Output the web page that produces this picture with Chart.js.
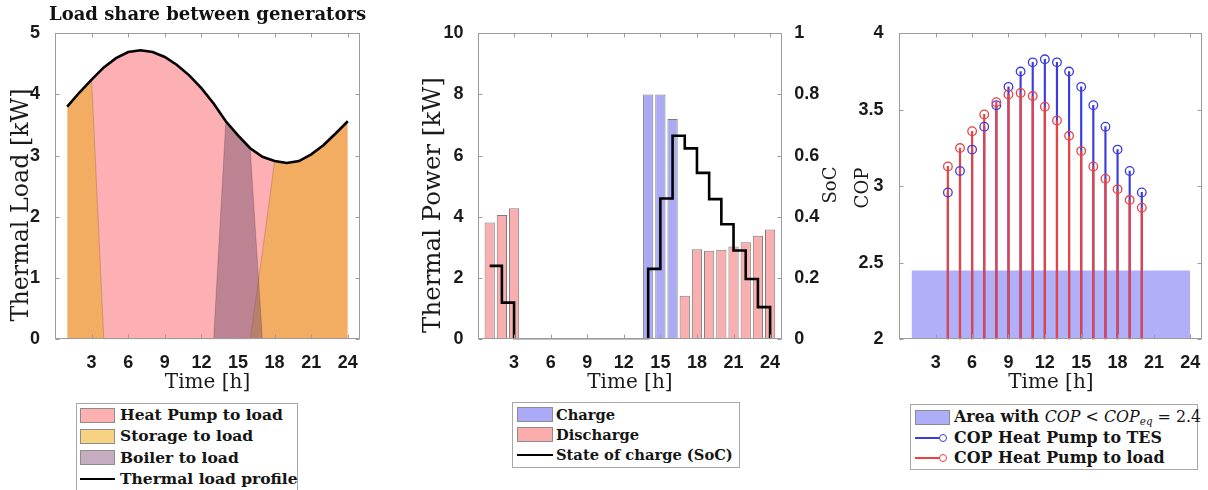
<!DOCTYPE html>
<html><head><meta charset="utf-8">
<script src="https://cdn.jsdelivr.net/npm/chart.js@4.4.1/dist/chart.umd.min.js"></script>
<style>
html,body{margin:0;padding:0;background:#fff;width:1208px;height:490px;overflow:hidden;position:relative}
canvas{position:absolute;top:0}
.leg{position:absolute;border:1px solid #a8a8a8;background:#fff;box-sizing:border-box;font-family:"DejaVu Serif",serif;font-weight:bold;color:#151515}
.row{position:absolute;white-space:nowrap;line-height:1;transform:translateY(-50%)}
.sym{position:absolute;box-sizing:border-box}
.m{font-weight:normal;font-style:italic}
.n{font-weight:normal}
sub{font-size:0.65em;vertical-align:-0.25em;line-height:0}
</style></head><body>
<canvas id="c1" width="415" height="400" style="left:0px"></canvas>
<canvas id="c2" width="430" height="400" style="left:415px"></canvas>
<canvas id="c3" width="363" height="400" style="left:845px"></canvas>
<div id="leg1" class="leg" style="left:76px;top:403px;width:222px;height:95px"></div>
<div id="leg2" class="leg" style="left:512px;top:402px;width:228px;height:66px"></div>
<div id="leg3" class="leg" style="left:910px;top:404px;width:288px;height:66px"></div>
<script>
// ---------------- data ----------------
const hours = [1,2,3,4,5,6,7,8,9,10,11,12,13,14,15,16,17,18,19,20,21,22,23,24];
const thermalLoad    = [3.80,4.03,4.24,4.44,4.59,4.69,4.72,4.69,4.61,4.48,4.31,4.10,3.85,3.56,3.33,3.12,2.98,2.91,2.88,2.91,3.02,3.17,3.36,3.56];
const heatPumpToLoad = [0,0,4.24,4.44,4.59,4.69,4.72,4.69,4.61,4.48,4.31,4.10,3.85,3.56,3.33,3.12,2.98,2.91,0,0,0,0,0,0];
const storageToLoad  = [3.80,4.03,4.24,0,0,0,0,0,0,0,0,0,0,0,0,0,1.42,2.91,2.88,2.91,3.02,3.17,3.36,3.56];
const boilerToLoad   = [null,null,null,null,null,null,null,null,null,null,null,null,0,3.56,3.33,3.12,0,null,null,null,null,null,null,null];

const chargePower    = [null,null,null,null,null,null,null,null,null,null,null,null,null,8.0,8.0,7.2,null,null,null,null,null,null,null,null];
const dischargePower = [3.82,4.06,4.28,null,null,null,null,null,null,null,null,null,null,null,null,null,1.42,2.94,2.89,2.93,3.03,3.17,3.38,3.59];
const stateOfCharge  = [0.24,0.12,0,0,0,0,0,0,0,0,0,0,0,0.23,0.46,0.665,0.624,0.544,0.458,0.376,0.29,0.197,0.105,0];

const copHours  = [4,5,6,7,8,9,10,11,12,13,14,15,16,17,18,19,20];
const copToTES  = [2.96,3.10,3.24,3.39,3.53,3.65,3.75,3.81,3.83,3.81,3.75,3.65,3.53,3.39,3.24,3.10,2.96];
const copToLoad = [3.13,3.25,3.36,3.47,3.55,3.60,3.61,3.59,3.52,3.43,3.33,3.23,3.13,3.05,2.98,2.91,2.86];
const lowCopHours = [1,24];
const lowCopLevel = [2.45,2.45];

const xTicks     = [3,6,9,12,15,18,21,24];
const loadTicks  = [0,1,2,3,4,5];
const powerTicks = [0,2,4,6,8,10];
const socTicks   = [0,0.2,0.4,0.6,0.8,1];
const copTicks   = [2,2.5,3,3.5,4];

const titleText = 'Load share between generators';
const xTitle = 'Time [h]';
const legend1 = ['Heat Pump to load','Storage to load','Boiler to load','Thermal load profile'];
const legend2 = ['Charge','Discharge','State of charge (SoC)'];
const legend3 = ['COP Heat Pump to TES','COP Heat Pump to load'];

// ---------------- helpers ----------------
const mkPts = (xs, ys) => xs.map((x,i)=>({x, y: ys[i]})).filter(p => p.y !== null);
const fmt = v => String(Math.round(v*100)/100);
const tickFont = {family:'"Liberation Sans", Arial, sans-serif', size:18, weight:'bold'};
const TICK_COLOR = '#1a1a1a';

function xScale(){
  return {type:'linear', min:0, max:25, offset:false,
    afterBuildTicks: s => { s.ticks = xTicks.map(v=>({value:v})); },
    afterFit: s => { s.height = 60.7; },
    grid:{display:false}, border:{display:false},
    ticks:{font:tickFont, color:TICK_COLOR, padding:5, maxRotation:0, autoSkip:false, callback: fmt},
    title:{display:true, text:xTitle, color:'#1a1a1a', font:{family:'"DejaVu Serif", serif', size:20}, padding:{top:0,bottom:5}}
  };
}
function yScale(min,max,ticks,width,pos,pad){
  return {type:'linear', min, max, position:pos||'left',
    afterBuildTicks: s => { s.ticks = ticks.map(v=>({value:v})); },
    afterFit: s => { s.width = width; },
    grid:{display:false}, border:{display:false},
    ticks:{font:tickFont, color:TICK_COLOR, padding:pad, callback: fmt}
  };
}
function spacer(width){
  return {type:'linear', position:'right', display:true, afterFit: s => { s.width = width; },
    grid:{display:false}, border:{display:false}, ticks:{display:false}};
}
const framePlugin = {
  id:'frame',
  afterDatasetsDraw(chart){
    const {ctx, chartArea:a, scales} = chart;
    ctx.save();
    ctx.strokeStyle = '#9c9c9c'; ctx.lineWidth = 1;
    const L = Math.round(a.left)+0.5, R = Math.round(a.right)-0.5, T = Math.round(a.top)+0.5, B = Math.round(a.bottom)-0.5;
    ctx.strokeRect(L, T, R-L, B-T);
    const k = 4;
    ctx.beginPath();
    scales.x.ticks.forEach(t => { const p = Math.round(scales.x.getPixelForValue(t.value))+0.5;
      ctx.moveTo(p,B); ctx.lineTo(p,B-k); ctx.moveTo(p,T); ctx.lineTo(p,T+k); });
    scales.y.ticks.forEach(t => { const p = Math.round(scales.y.getPixelForValue(t.value))+0.5;
      ctx.moveTo(L,p); ctx.lineTo(L+k,p); if(!scales.y1){ ctx.moveTo(R,p); ctx.lineTo(R-k,p);} });
    if (scales.y1) scales.y1.ticks.forEach(t => { const p = Math.round(scales.y1.getPixelForValue(t.value))+0.5;
      ctx.moveTo(R,p); ctx.lineTo(R-k,p); });
    ctx.stroke(); ctx.restore();
  }
};
function vTitles(items){
  return { id:'vtitles', afterDraw(chart){
    const ctx = chart.ctx;
    items.forEach(it => {
      ctx.save();
      const w0 = it.weight || 'normal';
      ctx.font = `${w0} 20px "DejaVu Serif"`;
      const size = 20 * it.len / ctx.measureText(it.text).width;
      ctx.font = `${w0} ${size}px "DejaVu Serif"`;
      ctx.translate(it.x, it.y); ctx.rotate(-Math.PI/2);
      ctx.textAlign = 'center'; ctx.textBaseline = 'middle'; ctx.fillStyle = '#1a1a1a';
      ctx.fillText(it.text, 0, 0);
      ctx.restore();
    });
  }};
}
const common = {responsive:false, animation:false, events:[], devicePixelRatio:1};

// ---------------- panel 1 ----------------
new Chart(document.getElementById('c1'), {
  type:'line',
  data:{datasets:[
    {label:legend1[3], data:mkPts(hours,thermalLoad), borderColor:'#000', borderWidth:2.6, pointRadius:0, fill:false, order:1},
    {label:legend1[2], data:mkPts(hours,boilerToLoad), backgroundColor:'rgba(124,86,112,0.5)', borderColor:'rgba(70,30,50,0.22)', borderWidth:1, pointRadius:0, fill:'origin', order:2},
    {label:legend1[1], data:mkPts(hours,storageToLoad), backgroundColor:'#f2ad63', borderColor:'rgba(110,70,50,0.28)', borderWidth:1, pointRadius:0, fill:'origin', order:3},
    {label:legend1[0], data:mkPts(hours,heatPumpToLoad), backgroundColor:'#fdb0b4', borderColor:'rgba(140,70,70,0.22)', borderWidth:1, pointRadius:0, fill:'origin', order:4}
  ]},
  options:{...common,
    layout:{padding:{left:0,right:0,top:0,bottom:0}},
    plugins:{legend:{display:false}, tooltip:{enabled:false},
      title:{display:true, text:titleText, color:'#111', font:{family:'"DejaVu Serif", serif', size:18, weight:'bold'}, padding:{top:5,bottom:6.5}}},
    scales:{x:xScale(), y:yScale(0,5,loadTicks,55,'left',7), yR:spacer(55)}
  },
  plugins:[framePlugin, vTitles([{text:'Thermal Load [kW]', x:22, y:205, len:233}])]
});

// ---------------- panel 2 ----------------
new Chart(document.getElementById('c2'), {
  type:'bar',
  data:{datasets:[
    {type:'line', label:legend2[2], data:mkPts(hours,stateOfCharge), yAxisID:'y1', stepped:'before', borderColor:'#000', borderWidth:2.6, pointRadius:0, fill:false, order:1},
    {label:legend2[0], data:mkPts(hours,chargePower), yAxisID:'y', backgroundColor:'#aaaaf5', borderColor:'#7c7c7c', borderWidth:1, grouped:false, barPercentage:0.84, categoryPercentage:1, order:3},
    {label:legend2[1], data:mkPts(hours,dischargePower), yAxisID:'y', backgroundColor:'#f9afaf', borderColor:'#7c7c7c', borderWidth:1, grouped:false, barPercentage:0.84, categoryPercentage:1, order:4}
  ]},
  options:{...common,
    layout:{padding:{left:0,right:0,top:33.3,bottom:0}},
    plugins:{legend:{display:false}, tooltip:{enabled:false}},
    scales:{x:xScale(), y:yScale(0,10,powerTicks,62.5,'left',6), y1:yScale(0,1,socTicks,62.7,'right',4)}
  },
  plugins:[framePlugin, vTitles([{text:'Thermal Power [kW]', x:19, y:205, len:256},{text:'SoC', x:416, y:185, len:37}])]
});

// ---------------- panel 3 ----------------
const stems = (xs, ys) => xs.map((x,i)=>({x, y:[2, ys[i]]}));
new Chart(document.getElementById('c3'), {
  type:'bar',
  data:{datasets:[
    {type:'line', label:'Area with COP < COPeq = 2.4', data:mkPts(lowCopHours,lowCopLevel), backgroundColor:'#b0b0f8', borderWidth:0, pointRadius:0, fill:'start', order:10},
    {label:legend3[0], data:stems(copHours,copToTES), backgroundColor:'#3c3cdc', barThickness:1.5, grouped:false, order:9},
    {label:legend3[1], data:stems(copHours,copToLoad), backgroundColor:'#e84242', barThickness:1.5, grouped:false, order:8},
    {type:'line', label:legend3[0], data:mkPts(copHours,copToTES), showLine:false, pointStyle:'circle', pointRadius:4.3, pointBorderWidth:1.3, pointBorderColor:'#3c3cdc', pointBackgroundColor:'rgba(0,0,0,0)', order:7},
    {type:'line', label:legend3[1], data:mkPts(copHours,copToLoad), showLine:false, pointStyle:'circle', pointRadius:4.3, pointBorderWidth:1.3, pointBorderColor:'#e84242', pointBackgroundColor:'rgba(0,0,0,0)', order:6}
  ]},
  options:{...common,
    layout:{padding:{left:0,right:3,top:33.3,bottom:0}},
    plugins:{legend:{display:false}, tooltip:{enabled:false}},
    scales:{x:xScale(), y:yScale(2,4,copTicks,54.4,'left',8)}
  },
  plugins:[framePlugin, vTitles([{text:'COP', x:18.5, y:188, len:41}])]
});

// ---------------- HTML legends ----------------
const mctx = document.createElement('canvas').getContext('2d');
function fitSize(text, target){ mctx.font = 'bold 16px "DejaVu Serif"'; return 16*target/mctx.measureText(text).width; }
function buildLegend(id, rows, opt){
  const el = document.getElementById(id);
  el.style.fontSize = fitSize(opt.fitText, opt.fitWidth) + 'px';
  rows.forEach((r,i) => {
    const cy = opt.first + i*opt.pitch;
    const s = document.createElement('div'); s.className = 'sym';
    if (r.kind === 'patch') {
      Object.assign(s.style, {left:opt.px+'px', top:(cy-7.5)+'px', width:opt.pw+'px', height:'15px', background:r.color, border:'1px solid #8c8c8c'});
      el.appendChild(s);
    } else {
      Object.assign(s.style, {left:opt.px+'px', top:(cy-1)+'px', width:(r.kind==='stem'?opt.pw-8:opt.pw)+'px', height:'2px', background:r.color});
      el.appendChild(s);
      if (r.kind === 'stem') {
        const c = document.createElement('div'); c.className = 'sym';
        Object.assign(c.style, {left:(opt.px+opt.pw-11)+'px', top:(cy-4)+'px', width:'8px', height:'8px', borderRadius:'50%', border:'1.4px solid '+r.color, background:'#fff'});
        el.appendChild(c);
      }
    }
    const t = document.createElement('div'); t.className = 'row';
    t.style.left = opt.tx+'px'; t.style.top = cy+'px';
    if (r.html) t.innerHTML = r.html; else t.textContent = r.label;
    el.appendChild(t);
  });
}
buildLegend('leg1', [
  {kind:'patch', color:'#ffb0b0', label:legend1[0]},
  {kind:'patch', color:'#f6d283', label:legend1[1]},
  {kind:'patch', color:'#c6adbf', label:legend1[2]},
  {kind:'line', color:'#000', label:legend1[3]}
], {first:11, pitch:21.3, px:3, pw:35, tx:43, fitText:legend1[0], fitWidth:163});
buildLegend('leg2', [
  {kind:'patch', color:'#aaaaf8', label:legend2[0]},
  {kind:'patch', color:'#fbadad', label:legend2[1]},
  {kind:'line', color:'#000', label:legend2[2]}
], {first:11.5, pitch:20, px:4, pw:36, tx:43, fitText:legend2[2], fitWidth:177});
buildLegend('leg3', [
  {kind:'patch', color:'#aeaef8', html:'Area with <span class="m">COP</span><span class="n"> &lt; </span><span class="m">COP<sub>eq</sub></span><span class="n"> = 2.4</span>'},
  {kind:'stem', color:'#3c3cdc', label:legend3[0]},
  {kind:'stem', color:'#e84242', label:legend3[1]}
], {first:12, pitch:20.5, px:4, pw:35, tx:43, fitText:legend3[0], fitWidth:208});
</script>
</body></html>
